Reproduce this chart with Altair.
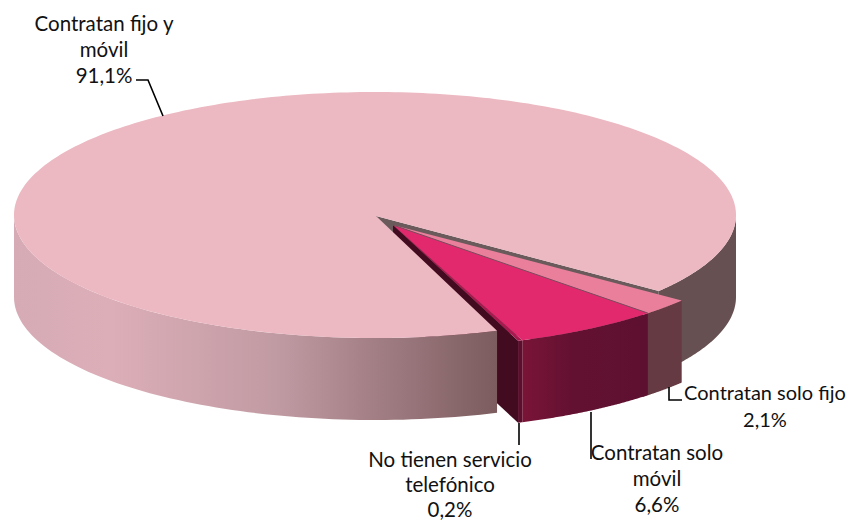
import altair as alt
import numpy as np
import pandas as pd

# Data
categories = ["Contratan fijo y móvil", "Contratan solo fijo", "Contratan solo móvil", "No tienen servicio telefónico"]
shares = [91.1, 2.1, 6.6, 0.2]

# Layout of the tilted pie (in page pixels)
CX, CY, RX, RY, DEPTH = 375.0, 215.0, 361.0, 123.0, 82.0
START = 38.2
OFF = (21.0, 10.0)
OFF_FIJO = (23.0, 9.5)
APEX_OUT = (393.0, 225.0)

W, H = 840, 513
xs = alt.Scale(domain=[8, 8 + W], nice=False, zero=False)
ys = alt.Scale(domain=[8, 8 + H], nice=False, zero=False, reverse=True)


def arc(a0, a1, off=(0, 0), dy=0, n=80):
    t = np.radians(np.linspace(a0, a1, n))
    return list(zip(CX + off[0] + RX * np.cos(t), CY + off[1] + dy + RY * np.sin(t)))


def poly(pts, fill, stroke=None, sw=0):
    pts = list(pts) + [pts[0]]
    df = pd.DataFrame({"x": [p[0] for p in pts], "y": [p[1] for p in pts], "o": range(len(pts))})
    kw = {"stroke": stroke, "strokeWidth": sw} if stroke else {"strokeWidth": 0}
    return alt.Chart(df).mark_line(fill=fill, clip=False, **kw).encode(
        x=alt.X("x:Q", scale=xs, axis=None),
        y=alt.Y("y:Q", scale=ys, axis=None),
        order="o:Q",
    )


def wall(a0, a1, off, fill):
    top = arc(a0, a1, off)
    bot = arc(a1, a0, off, DEPTH)
    return poly(top + bot, fill)


def hgrad(stops):
    return alt.Gradient(
        gradient="linear", x1=0, x2=1, y1=0, y2=0,
        stops=[alt.GradientStop(offset=o, color=c) for o, c in stops],
    )


def path(pts, width=1.6, color="#000000"):
    df = pd.DataFrame({"x": [p[0] for p in pts], "y": [p[1] for p in pts], "o": range(len(pts))})
    return alt.Chart(df).mark_line(color=color, strokeWidth=width).encode(
        x=alt.X("x:Q", scale=xs, axis=None),
        y=alt.Y("y:Q", scale=ys, axis=None),
        order="o:Q",
    )


def text(lines, cx, baselines, size=20.5):
    df = pd.DataFrame({"t": lines, "x": [cx] * len(lines), "y": baselines})
    return alt.Chart(df).mark_text(
        font="Lato", fontSize=size, align="center", baseline="alphabetic", color="#111111"
    ).encode(
        x=alt.X("x:Q", scale=xs, axis=None),
        y=alt.Y("y:Q", scale=ys, axis=None),
        text="t:N",
    )


# Slice angles come from the shares
deg = [s * 3.6 for s in shares]
a_fijo0 = START
a_fijo1 = a_fijo0 + deg[1]
a_mov1 = a_fijo1 + deg[2]
a_none1 = a_mov1 + deg[3]


def pt(a, off=(0, 0), dy=0):
    return arc(a, a, off, dy, n=1)[0]


apex = (CX + 1, CY + 1)
layers = []

# Cut wall of the main slice (grey sliver above the pink slice)
p = pt(START)
layers.append(poly([apex, p, (p[0], p[1] + DEPTH), (apex[0], apex[1] + DEPTH)], "#6b5a5c"))

# Cut wall of the exploded 0.2% slice
p = pt(a_none1, OFF)
layers.append(poly([APEX_OUT, p, (p[0], p[1] + DEPTH), (APEX_OUT[0], APEX_OUT[1] + DEPTH)], "#430b20"))

# Main slice: walls and top
layers.append(wall(0, START, (0, 0), "#665052"))
layers.append(wall(a_none1, 180, (0, 0), hgrad([(0, "#d6abb6"), (0.2, "#dcaeb8"), (0.55, "#c09aa2"), (1, "#7c5c5f")])))
layers.append(poly([apex] + arc(a_none1, 360 + START, n=300), "#ecb8c1"))

# Exploded slices: outer walls (the pink wall runs a little under the next one)
layers.append(wall(a_fijo0, a_fijo1 + 1.5, OFF_FIJO, "#653a42"))
layers.append(wall(a_fijo1, a_mov1, OFF, hgrad([(0, "#7a1437"), (0.4, "#631131"), (1, "#5e1030")])))
layers.append(wall(a_mov1, a_none1, OFF, "#5a0f2c"))

# Exploded slices: tops
layers.append(poly([APEX_OUT] + arc(a_fijo0, a_fijo1 + 1.5, OFF_FIJO), "#ea7f9b"))
layers.append(poly([APEX_OUT] + arc(a_fijo1, a_mov1, OFF), "#e3296e"))
layers.append(poly([APEX_OUT] + arc(a_mov1, a_none1, OFF), "#a81a50"))
layers.append(path([APEX_OUT, pt(a_fijo1, OFF)], width=1, color="#7a4a5c"))

# Leader lines
layers.append(path([(136, 80), (148, 80), (163, 116)]))
layers.append(path([(669, 387), (669, 400), (682, 400)]))
layers.append(path([(591, 412), (591, 459)]))
layers.append(path([(519, 423), (519, 445)]))

# Labels
layers.append(text(["Contratan fijo y", "móvil", f"{shares[0]:.1f}%".replace(".", ",")], 104, [31, 57, 83]))
layers.append(text(["Contratan solo fijo", f"{shares[1]:.1f}%".replace(".", ",")], 765, [400, 427], size=20))
layers.append(text(["Contratan solo", "móvil", f"{shares[2]:.1f}%".replace(".", ",")], 657, [460, 486, 512]))
layers.append(text(["No tienen servicio", "telefónico", f"{shares[3]:.1f}%".replace(".", ",")], 450, [467, 492, 517]))

chart = alt.layer(*layers).properties(
    width=W, height=H, padding=0, autosize=alt.AutoSizeParams(type="none"), background="#ffffff"
).configure_view(stroke=None)

chart.save("out.html", embed_options={"renderer": "svg", "actions": False})
